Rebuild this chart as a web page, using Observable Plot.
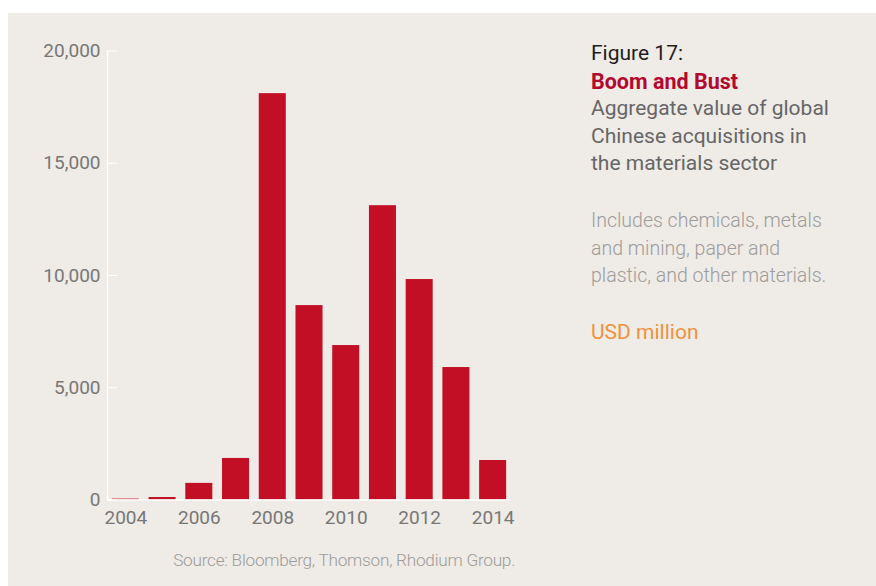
<!DOCTYPE html>
<html>
<head>
<meta charset="utf-8">
<script src="https://cdn.jsdelivr.net/npm/d3@7"></script>
<script src="https://cdn.jsdelivr.net/npm/@observablehq/plot@0.6"></script>
<style>
  html, body { margin: 0; padding: 0; background: #ffffff; }
  body { width: 876px; height: 586px; position: relative; overflow: hidden; font-family: Roboto, "Open Sans", sans-serif; }
  #panel { position: absolute; left: 8px; top: 13px; width: 868px; height: 573px; background: #efebe6; }
  #chart { position: absolute; left: 0; top: 0; }
  #side { position: absolute; left: 591px; top: 40px; font-size: 21px; line-height: 27.5px; }
  #side div { white-space: nowrap; }
  .fig { color: #1e1e1e; }
  .head { color: #b3082f; font-weight: 700; font-size: 21.5px; }
  .sub { color: #666666; }
  .note { color: #9c9c9c; font-weight: 300; font-size: 19.5px; }
  .unit { color: #f0923a; }
  #source { position: absolute; right: 361px; top: 550px; font-size: 17.2px; letter-spacing: -0.25px; color: #9c9c9c; font-weight: 300; white-space: nowrap; }
</style>
</head>
<body>
<div id="panel"></div>
<div id="chart"></div>
<div id="side">
  <div class="fig">Figure 17:</div>
  <div class="head">Boom and Bust</div>
  <div class="sub">Aggregate value of global</div>
  <div class="sub">Chinese acquisitions in</div>
  <div class="sub">the materials sector</div>
  <div style="height:29.5px"></div>
  <div class="note">Includes chemicals, metals</div>
  <div class="note">and mining, paper and</div>
  <div class="note">plastic, and other materials.</div>
  <div style="height:29.5px"></div>
  <div class="unit">USD million</div>
</div>
<div id="source">Source: Bloomberg, Thomson, Rhodium Group.</div>
<script>
const years = [2004, 2005, 2006, 2007, 2008, 2009, 2010, 2011, 2012, 2013, 2014];
const values = [40, 110, 740, 1850, 18100, 8660, 6880, 13110, 9820, 5900, 1760];
const yTicks = [0, 5000, 10000, 15000, 20000];
const xTickYears = [2004, 2006, 2008, 2010, 2012, 2014];

const data = years.map((year, i) => ({year, value: values[i]}));

const chart = Plot.plot({
  width: 560,
  height: 586,
  marginLeft: 107,
  marginRight: 49,
  marginTop: 50.5,
  marginBottom: 86.5,
  style: {background: "transparent", fontFamily: "Roboto, 'Open Sans', sans-serif", fontSize: "19px", color: "#777777"},
  x: {type: "linear", domain: [2003.5, 2014.5]},
  y: {domain: [0, 20000]},
  marks: [
    Plot.rectY(data, {x1: d => d.year - 0.5, x2: d => d.year + 0.5, y: "value", fill: "#c20f25", insetLeft: 4.85, insetRight: 4.85}),
    Plot.ruleX([2003.5], {y1: 0, y2: 20000, stroke: "#ffffff", strokeWidth: 1.5}),
    Plot.ruleY([0], {stroke: "#ffffff", strokeWidth: 1.5}),
    Plot.axisY({ticks: yTicks, tickSize: 10, dx: 10, stroke: "#ffffff", fill: "none", label: null}),
    Plot.axisY({ticks: yTicks, tickSize: 0, tickPadding: 7, fill: "#777777", label: null, tickFormat: d3.format(",")}),
    Plot.axisX({ticks: xTickYears, tickSize: 0, tickPadding: 10, fill: "#777777", label: null, tickFormat: d => String(d)})
  ]
});
document.getElementById("chart").appendChild(chart);
</script>
</body>
</html>
